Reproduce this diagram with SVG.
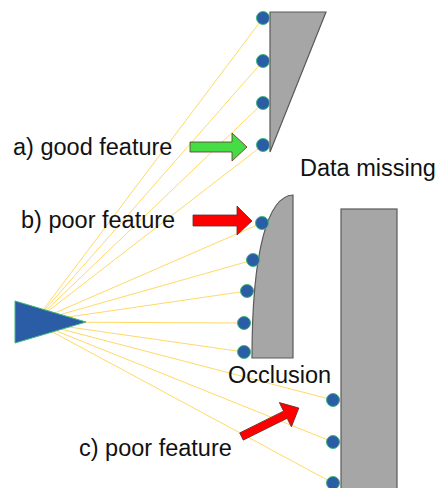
<svg xmlns="http://www.w3.org/2000/svg" width="439" height="488" viewBox="0 0 439 488">
  <style>
    .ray { stroke: #ffd966; stroke-width: 1; fill: none; }
    .pt { fill: #2b5ca6; stroke: #3cb878; stroke-width: 1; }
    .solid { fill: #a6a6a6; stroke: #5a5a5a; stroke-width: 1.2; }
    .lbl { font-family: "Liberation Sans", Arial, sans-serif; font-size: 23.5px; fill: #111; }
    .arrow { stroke: #6a2a2a; stroke-width: 0.8; }
  </style>

  <!-- surfaces -->
  <g id="wedge-surface">
    <polygon class="solid" points="270,12 326,12 270,152"/>
  </g>
  <g id="curved-surface">
    <path class="solid" d="M252,358 C252,250 268,196 293,195 L293,358 Z"/>
  </g>
  <g id="wall">
    <rect class="solid" x="341" y="209" width="56" height="290"/>
  </g>

  <!-- rays from the sensor to sampled points -->
  <g id="rays">
    <line class="ray" x1="34" y1="322" x2="263" y2="18"/>
    <line class="ray" x1="34" y1="322" x2="263" y2="61"/>
    <line class="ray" x1="34" y1="322" x2="263" y2="103"/>
    <line class="ray" x1="34" y1="322" x2="263" y2="145"/>
    <line class="ray" x1="34" y1="322" x2="262" y2="223"/>
    <line class="ray" x1="34" y1="322" x2="253" y2="260"/>
    <line class="ray" x1="34" y1="322" x2="247" y2="291"/>
    <line class="ray" x1="34" y1="322" x2="244" y2="323"/>
    <line class="ray" x1="34" y1="322" x2="244" y2="352"/>
    <line class="ray" x1="34" y1="322" x2="333" y2="400"/>
    <line class="ray" x1="34" y1="322" x2="333" y2="442"/>
    <line class="ray" x1="34" y1="322" x2="333" y2="483"/>
  </g>

  <!-- sensor -->
  <g id="sensor">
    <polygon points="15,301 86,322 15,343" fill="#2b5ca6" stroke="#3cb878" stroke-width="1"/>
  </g>

  <!-- sampled points -->
  <g id="points">
    <circle class="pt" cx="263" cy="18" r="6.5"/>
    <circle class="pt" cx="263" cy="61" r="6.5"/>
    <circle class="pt" cx="263" cy="103" r="6.5"/>
    <circle class="pt" cx="263" cy="145" r="6.5"/>
    <circle class="pt" cx="262" cy="223" r="6.5"/>
    <circle class="pt" cx="253" cy="260" r="6.5"/>
    <circle class="pt" cx="247" cy="291" r="6.5"/>
    <circle class="pt" cx="244" cy="323" r="6.5"/>
    <circle class="pt" cx="244" cy="352" r="6.5"/>
    <circle class="pt" cx="333" cy="400" r="6.5"/>
    <circle class="pt" cx="333" cy="442" r="6.5"/>
    <circle class="pt" cx="333" cy="483" r="6.5"/>
  </g>

  <!-- pointer arrows -->
  <g id="arrow-a">
    <polygon class="arrow" fill="#44dd44" stroke="#3a5a3a" points="190,142 232,142 232,133 247,147 232,161 232,152 190,152"/>
  </g>
  <g id="arrow-b">
    <polygon class="arrow" fill="#ff0000" points="193,215 237,215 237,206 252,221 237,235 237,226 193,226"/>
  </g>
  <g id="arrow-c">
    <polygon class="arrow" fill="#ff0000" transform="translate(241.5,436.5) rotate(-26.4)" points="0,-4 49,-4 49,-13.5 64,0 49,13.5 49,4 0,4"/>
  </g>

  <!-- labels -->
  <g id="labels">
    <text class="lbl" x="13" y="155">a) good feature</text>
    <text class="lbl" x="21" y="228">b) poor feature</text>
    <text class="lbl" x="79" y="456">c) poor feature</text>
    <text class="lbl" x="300" y="176">Data missing</text>
    <text class="lbl" x="228" y="383">Occlusion</text>
  </g>
</svg>
